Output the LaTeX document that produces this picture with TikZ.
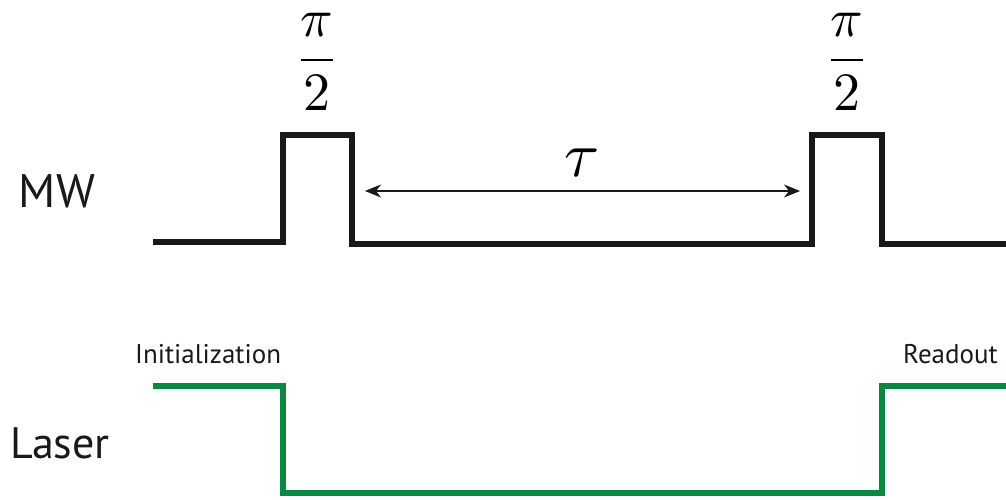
\documentclass[tikz,border=0pt]{standalone}
\usepackage{graphicx}
\usepackage{fontspec}
\setmainfont{PT Sans}
\usetikzlibrary{arrows.meta}
\definecolor{lasergreen}{RGB}{10,135,65}
\newcommand{\pihalf}{\scalebox{5.4}{$\displaystyle\frac{\pi}{2}$}}
\newcommand{\taudelay}{\scalebox{6.4}{$\tau$}}
\tikzset{
  wave/.style={line width=6pt, line join=miter},
  mwwave/.style={wave, draw=black!90},
  laserwave/.style={wave, draw=lasergreen},
  biglabel/.style={inner sep=0pt, font=\fontsize{44}{50}\selectfont, text=black!90},
  smalllabel/.style={inner sep=0pt, font=\fontsize{27}{32}\selectfont, text=black!90},
  mathlabel/.style={inner sep=0pt},
  delay/.style={line width=1.6pt, draw=black!90, {Stealth[length=16pt,width=13pt,inset=5pt]}-{Stealth[length=16pt,width=13pt,inset=5pt]}}
}
\begin{document}
\begin{tikzpicture}[x=1pt,y=-1pt]
\useasboundingbox (0,0) rectangle (1006,500);
% MW waveform corners
\coordinate (m0) at (153,242);
\coordinate (m1) at (283,242);
\coordinate (m2) at (283,135);
\coordinate (m3) at (352,135);
\coordinate (m4) at (352,244);
\coordinate (m5) at (812,244);
\coordinate (m6) at (812,135);
\coordinate (m7) at (882,135);
\coordinate (m8) at (882,244);
\coordinate (m9) at (1009,244);
\draw[mwwave] (m0) -- (m1) -- (m2) -- (m3) -- (m4) -- (m5) -- (m6) -- (m7) -- (m8) -- (m9);
% Laser waveform corners
\coordinate (l0) at (153,386);
\coordinate (l1) at (283,386);
\coordinate (l2) at (283,493);
\coordinate (l3) at (882,493);
\coordinate (l4) at (882,386);
\coordinate (l5) at (1009,386);
\draw[laserwave] (l0) -- (l1) -- (l2) -- (l3) -- (l4) -- (l5);
% delay arrow
\coordinate (a0) at (365,191);
\coordinate (a1) at (800,191);
\draw[delay] (a0) -- (a1);
% labels
\node[biglabel, font=\fontsize{47}{52}\selectfont] (mw) at (57,191) {MW};
\node[biglabel] (laser) at (60,443) {Laser};
\node[smalllabel, anchor=base west] (init) at (135,363) {Initialization};
\node[smalllabel, anchor=base east] (read) at (998,363) {Readout};
\node[mathlabel] (p1) at (317,62) {\pihalf};
\node[mathlabel] (p2) at (847,62) {\pihalf};
\node[mathlabel] (tau) at (582,163) {\taudelay};
\end{tikzpicture}
\end{document}
